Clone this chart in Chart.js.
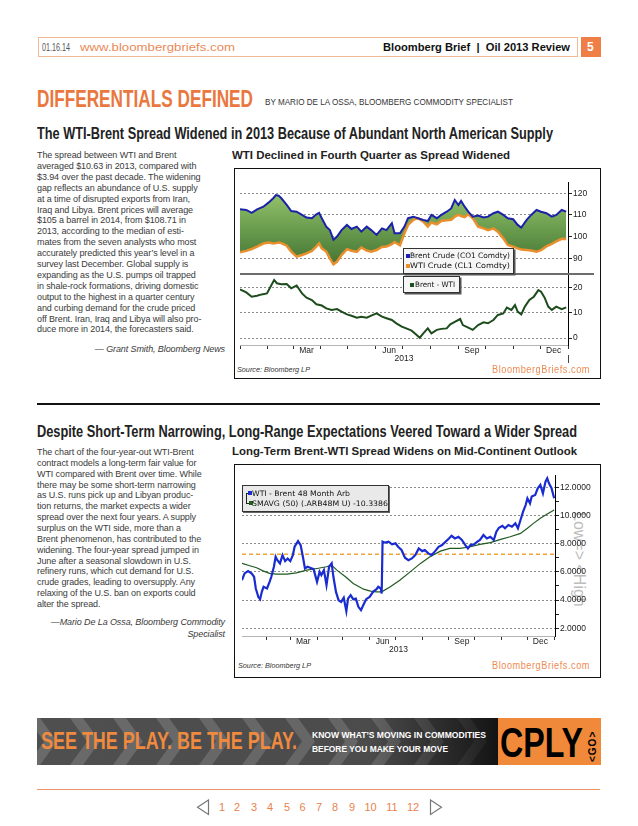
<!DOCTYPE html>
<html>
<head>
<meta charset="utf-8">
<title>Bloomberg Brief | Oil 2013 Review - page 5</title>
<script src="https://cdn.jsdelivr.net/npm/chart.js@4.4.1/dist/chart.umd.min.js"></script>
<style>
  html, body { margin: 0; padding: 0; }
  body { width: 638px; height: 826px; position: relative; overflow: hidden; background: #fff;
         font-family: "Liberation Sans", Arial, sans-serif; color: #222; }
  .abs { position: absolute; white-space: nowrap; }
  .narrow { font-family: "Liberation Sans Narrow", "Liberation Sans", sans-serif; }
  .body { font-size: 9px; line-height: 12px; letter-spacing: -0.1px; color: #3a3a3a; }
  .frame { position: absolute; border: 1.5px solid #111; box-sizing: border-box; }
  .lg { position: absolute; box-sizing: border-box; border: 1px solid #333; background: #f6f6f6;
        font-family: "DejaVu Sans", sans-serif; font-size: 7.5px; color: #111; }
  .lg .mk { position: absolute; width: 4px; height: 4px; }
  .lg .tx { position: absolute; white-space: nowrap; line-height: 9px; }
  .src { font-style: italic; font-size: 7.5px; color: #333; line-height: 10px; }
  .bb { font-size: 10px; color: #ef8a52; letter-spacing: 0.6px; line-height: 12px; }
  .pg { font-size: 11px; color: #e8834d; line-height: 14px; }
  canvas { position: absolute; }
</style>
</head>
<body>

<!-- page header -->
<div class="abs" style="left:38px;top:37px;width:540px;height:20px;border:1px solid #f1b995;box-sizing:border-box;"></div>
<div class="abs narrow" style="left:42px;top:41px;font-size:11px;line-height:12px;color:#555;" data-w="28">01.16.14</div>
<div class="abs narrow" style="left:80px;top:41px;font-size:11px;line-height:12px;color:#ea8a5a;" data-w="155">www.bloombergbriefs.com</div>
<div class="abs narrow" style="left:383px;top:41px;font-size:11.5px;line-height:12px;font-weight:bold;color:#111;" data-w="187">Bloomberg Brief&nbsp; | &nbsp;Oil 2013 Review</div>
<div class="abs" style="left:581px;top:37px;width:20px;height:20px;background:#ef7f46;"></div>
<div class="abs narrow" style="left:587px;top:40px;font-size:12px;line-height:14px;font-weight:bold;color:#fff;">5</div>

<!-- section heading -->
<div class="abs narrow" style="left:37px;top:86px;font-size:23px;line-height:26px;font-weight:bold;color:#e9773e;" data-w="216">DIFFERENTIALS DEFINED</div>
<div class="abs narrow" style="left:265px;top:97px;font-size:8.5px;line-height:10px;color:#333;" data-w="248">BY MARIO DE LA OSSA, BLOOMBERG COMMODITY SPECIALIST</div>

<div class="abs narrow" style="left:37px;top:125px;font-size:16px;line-height:18px;font-weight:bold;color:#222;" data-w="516">The WTI-Brent Spread Widened in 2013 Because of Abundant North American Supply</div>
<div class="abs" style="left:232px;top:149px;font-size:11px;line-height:13px;font-weight:bold;color:#222;" data-w="278">WTI Declined in Fourth Quarter as Spread Widened</div>

<!-- chart 1 frame -->
<div class="frame" style="left:234px;top:168px;width:367px;height:211px;"></div>
<canvas id="spreadChart" width="358" height="195" style="left:236px;top:170px;"></canvas>
<div class="lg" style="left:403px;top:248px;width:111px;height:26px;box-shadow:1.5px 1.5px 0 #555;">
  <div class="mk" style="left:2px;top:5px;background:#1b22b0;"></div>
  <div class="tx" data-w="100" style="left:6px;top:2px;">Brent Crude (CO1 Comdty)</div>
  <div class="mk" style="left:2px;top:15px;background:#e8902e;"></div>
  <div class="tx" data-w="100" style="left:6px;top:12px;">WTI Crude (CL1 Comdty)</div>
</div>
<div class="lg" style="left:403px;top:276px;width:57px;height:17px;box-shadow:1.5px 1.5px 0 #555;">
  <div class="mk" style="left:6px;top:6px;background:#1d4f1d;"></div>
  <div class="tx" data-w="40" style="left:11px;top:3px;">Brent - WTI</div>
</div>
<div class="abs src" style="left:237px;top:365px;" data-w="73">Source: Bloomberg LP</div>
<div class="abs bb" style="left:492px;top:364px;" data-w="98">BloombergBriefs.com</div>

<div class="abs body" style="right:413px;top:343px;font-style:italic;">— Grant Smith, Bloomberg News</div>

<!-- rule between sections -->
<div class="abs" style="left:37px;top:403px;width:563px;height:1.5px;background:#111;"></div>

<div class="abs narrow" style="left:37px;top:423px;font-size:16px;line-height:18px;font-weight:bold;color:#222;" data-w="540">Despite Short-Term Narrowing, Long-Range Expectations Veered Toward a Wider Spread</div>
<div class="abs" style="left:232px;top:445px;font-size:11px;line-height:13px;font-weight:bold;color:#222;" data-w="345">Long-Term Brent-WTI Spread Widens on Mid-Continent Outlook</div>

<!-- chart 2 frame -->
<div class="frame" style="left:234px;top:464px;width:367px;height:214px;"></div>
<div class="abs" style="left:571px;top:512px;transform-origin:0 0;transform:rotate(90deg) translate(0,-16px);font-size:16px;line-height:16px;color:#bdbdbd;">Low=&gt; &lt;High</div>
<canvas id="arbChart" width="360" height="190" style="left:236px;top:466px;"></canvas>
<div class="lg" style="left:242px;top:485px;width:147px;height:27px;background:#e9e9e9;box-shadow:1px 1px 0 #666;">
  <div class="abs" style="left:3px;top:7px;width:1px;height:11px;background:#222;"></div>
  <div class="abs" style="left:3px;top:7px;width:3px;height:1px;background:#222;"></div>
  <div class="abs" style="left:3px;top:17px;width:4px;height:1px;background:#222;"></div>
  <div class="mk" style="left:5px;top:5px;background:#1c2ccc;"></div>
  <div class="tx" data-w="98" style="left:9px;top:3px;">WTI - Brent 48 Month Arb</div>
  <div class="mk" style="left:6px;top:15px;background:#1f5e1f;"></div>
  <div class="tx" data-w="136" style="left:9px;top:13px;">SMAVG (50) (.ARB48M U) -10.3386</div>
</div>
<div class="abs src" style="left:238px;top:661px;" data-w="73">Source: Bloomberg LP</div>
<div class="abs bb" style="left:492px;top:660px;" data-w="98">BloombergBriefs.com</div>

<div class="abs body" style="right:413px;top:616px;font-style:italic;">—Mario De La Ossa, Bloomberg Commodity</div>
<div class="abs body" style="right:413px;top:628px;font-style:italic;">Specialist</div>

<!-- advertisement strip -->
<svg class="abs" style="left:37px;top:718px;" width="564" height="47" viewBox="0 0 564 47">
  <defs>
    <linearGradient id="fade" x1="0" x2="1" y1="0" y2="0">
      <stop offset="0" stop-color="#000" stop-opacity="0"/>
      <stop offset="0.72" stop-color="#000" stop-opacity="0.05"/>
      <stop offset="1" stop-color="#000" stop-opacity="0.75"/>
    </linearGradient>
  </defs>
  <rect x="0" y="0" width="461" height="47" fill="#4f4f4f"/>
  <g fill="#6a6a6a" id="chev"></g>
  <rect x="0" y="0" width="461" height="47" fill="url(#fade)"/>
  <rect x="461" y="0" width="103" height="47" fill="#f08a3a"/>
</svg>
<div class="abs narrow" style="left:41px;top:728px;font-size:23px;line-height:26px;font-weight:bold;color:#ef8a3e;" data-w="256">SEE THE PLAY. BE THE PLAY.</div>
<div class="abs narrow" style="left:312px;top:729px;font-size:9.5px;line-height:11px;font-weight:bold;color:#fff;" data-w="174">KNOW WHAT’S MOVING IN COMMODITIES</div>
<div class="abs narrow" style="left:312px;top:743px;font-size:9.5px;line-height:11px;font-weight:bold;color:#fff;" data-w="136">BEFORE YOU MAKE YOUR MOVE</div>
<div class="abs narrow" style="left:500px;top:720px;font-size:43px;line-height:44px;font-weight:bold;color:#000;" data-w="83">CPLY</div>
<div class="abs" style="left:587px;top:762px;transform-origin:0 0;transform:rotate(-90deg);font-size:10px;line-height:11px;font-weight:bold;color:#000;letter-spacing:1px;">&lt;GO&gt;</div>

<!-- footer -->
<div class="abs" style="left:37px;top:789px;width:563px;height:1px;background:#ec9466;"></div>
<svg class="abs" style="left:196px;top:799px;" width="14" height="17"><polygon points="12.5,1 12.5,15.5 1.5,8.25" fill="none" stroke="#777" stroke-width="1.2"/></svg>
<svg class="abs" style="left:429px;top:799px;" width="14" height="17"><polygon points="1.5,1 1.5,15.5 12.5,8.25" fill="none" stroke="#777" stroke-width="1.2"/></svg>
<div id="pager"></div>

<script>
// ---- chart 1: Brent, WTI (top panel) and Brent - WTI (bottom panel), x = day of 2013
const days1 = [0,7,13,19,26, 32,37,40,43,46, 52,57,63,69,74, 80,85,88,91,96,
  100,104,108,113,119, 124,130,135,141,146, 152,158,163,169,172, 178,183,187,193,198,
  204,209,213,219,224, 230,235,239,243,246, 250,254,259,265,271, 276,282,287,293,298,
  304,309,313,319,324, 330,335,341,347,352, 358,363];
const brent = [112.6,112.3,111.0,112.6,113.8, 115.8,117.7,119.2,118.9,117.7, 114.6,111.8,111.5,110.0,108.8,
  108.5,110.3,111.0,108.5,104.6, 103.0,98.5,100.0,103.0,105.4, 103.5,104.6,102.3,104.6,103.0,
  100.8,103.8,103.0,106.2,101.5, 101.5,104.6,108.5,109.2,108.5, 107.7,107.2,110.0,108.5,110.0,
  111.5,113.0,116.9,114.6,116.5, 113.8,111.5,109.2,109.7,108.8, 109.2,110.8,111.5,110.0,108.5,
  108.0,105.4,104.2,107.7,110.0, 112.3,111.5,110.8,109.2,110.0, 112.3,111.5];
const wti = [92.8,93.4,94.3,95.4,96.8, 97.3,96.8,97.0,97.3,97.0, 95.8,93.1,90.8,91.5,92.3,
  93.4,95.5,96.9,94.6,93.1, 90.0,87.2,88.5,91.5,94.2, 93.5,93.0,95.0,93.6,93.0,
  93.8,95.2,95.4,96.5,97.5, 96.0,101.5,105.4,107.7,108.5, 106.9,104.6,106.5,105.7,107.2,
  107.5,107.8,109.2,110.0,109.5, 109.0,110.3,108.5,104.6,103.8, 103.0,103.8,102.3,99.2,96.2,
  95.4,94.6,94.0,93.8,93.6, 93.0,93.8,95.5,96.7,97.8, 99.0,98.9];
const spreadDays = [0,7,13,19,24, 30,35,38,41,46, 52,57,63,69,74, 80,85,91,96,102,
  108,113,119,124,130, 135,141,146,152,158, 163,169,174,180,185, 191,196,200,204,209,
  213,219,224,230,234, 239,245,248,254,259, 265,271,276,282,287, 293,297,302,306,309,
  313,317,322,327,332, 335,339,343,347,352, 358,363];
const spread = [19.2,18.0,16.3,16.7,17.2, 17.6,20.9,22.9,21.6,21.2, 21.3,19.6,20.7,17.6,15.9,
  15.0,13.3,12.8,11.7,11.1, 11.4,10.4,9.3,8.8,8.0, 8.4,8.0,8.8,9.7,8.4,
  7.8,7.1,5.8,4.5,3.8, 2.9,1.4,0.1,1.8,3.8, 1.8,3.2,3.6,3.8,5.4,
  6.4,7.5,5.1,4.1,3.2, 5.1,6.2,5.8,7.1,9.1, 9.7,12.0,11.1,13.0,10.4,
  9.3,12.4,15.0,16.3,18.9, 18.3,15.9,12.4,11.1,12.4, 11.4,12.1];
const priceTicks = [90, 100, 110, 120];
const spreadTicks = [0, 10, 20];

// ---- chart 2: WTI - Brent 48 month arb and its 50-day average
const arbDays = [3,6,10,14,17,19,22,24,26,28,32,35,37,40,42,44,47,50,53,56,59,62,64,68,71,74,76,79,82,86,
  90,93,95,98,101,104,107,109,112,115,118,121,124,126,129,132,135,138,141,144,147,151,155,159,161,164,165,
  166,169,173,177,181,184,188,192,196,200,204,208,212,215,219,223,227,231,235,239,243,246,250,254,258,
  262,265,268,272,276,279,283,287,291,295,298,301,305,308,312,316,320,323,326,329,332,334,337,339,343,
  346,349,352,355,357,359,362,365];
const arb = [5.41,5.89,6.05,5.89,5.65,4.82,4.22,4.06,4.58,4.94,4.82,5.29,5.65,6.36,7.07,6.83,6.60,7.19,6.76,6.95,
  6.76,7.19,7.78,8.18,7.90,6.95,6.24,6.36,6.29,6.19, 5.29,6.00,5.77,6.12,5.06,6.36,6.60,5.65,4.58,3.99,
  3.87,4.16,3.21,4.10,4.35,4.06,4.10,3.52,3.28,3.68,4.06,4.22,4.58,4.77,4.94,4.82,4.46,
  8.14,8.07,8.14,7.95,8.02,7.78,7.55,7.00,6.83,6.95,7.19,7.66,7.47,7.55,7.31,7.19,7.47,7.78,7.90,8.14,8.37,
  8.56,8.37,8.49,8.26, 7.90,7.66,7.90,7.95,8.14,8.26,8.61,8.37,8.49,8.26,8.85,9.13,9.27,9.09,9.32,9.20,
  9.44,9.09,9.68,10.27,10.74,11.22,10.86,11.34,11.45, 11.93,12.17,11.57,12.40,12.64,12.28,11.93,11.22];
const smaDays = [3,12,20,28,35,43,55,66,78,90,101,107,113,123,132,144,152,159,165,175,186,198,210,221,233,
  244,256,268,279,291,303,314,326,334,341,349,357,365];
const sma = [6.60,6.43,6.29,6.05,5.89,5.84,5.84,5.93,6.12,6.24,6.36,6.48,6.12,5.65,5.18,4.77,4.63,4.58,4.58,
  4.94,5.41,6.00,6.60,7.07,7.47,7.66,7.66,7.78,7.95,8.07,8.30,8.49,8.73,9.09,9.44,9.80,10.10,10.39];
const fairLevel = 7.25;
const arbTicks = [2,3,4,5,6,7,8,9,10,11,12];

// ---- shared date axis (2013)
const monthStarts = [0,31,59,90,120,151,181,212,243,273,304,334,365];
const quarterLabels = { 74: 'Mar', 166: 'Jun', 258: 'Sep', 349: 'Dec' };

const tickFont = { family: '"Liberation Sans", Arial, sans-serif', size: 8.5 };
const INK = '#222';

function pts(xs, ys) { return xs.map((x, i) => ({ x: x, y: ys[i] })); }

function dateAxis(min, max) {
  return {
    type: 'linear', position: 'bottom', min: min, max: max,
    afterBuildTicks: s => {
      const vals = monthStarts.filter(v => v >= min && v <= max)
        .concat(Object.keys(quarterLabels).map(Number));
      s.ticks = vals.sort((a, b) => a - b).map(v => ({ value: v }));
    },
    afterFit: s => { s.height = 20; },
    ticks: { autoSkip: false, maxRotation: 0, padding: -3, font: tickFont, color: INK,
             callback: v => quarterLabels[v] || '' },
    grid: { drawOnChartArea: false, tickLength: 4,
            tickColor: c => (c.tick && monthStarts.includes(c.tick.value)) ? '#333' : 'rgba(0,0,0,0)' },
    border: { color: '#b5b5b5' },
    title: { display: true, text: '2013', font: tickFont, color: INK, padding: { top: 0, bottom: 1 } }
  };
}

function greenFill(context) {
  const chart = context.chart;
  const y = chart.scales && chart.scales.yTop;
  if (!y || !isFinite(y.top)) return '#6a9a4a';
  const g = chart.ctx.createLinearGradient(0, y.top, 0, y.bottom);
  g.addColorStop(0, '#a1cf73');
  g.addColorStop(0.5, '#6b9d4f');
  g.addColorStop(1, '#3b6a2b');
  return g;
}

const panelRule = {
  id: 'panelRule',
  afterDraw(chart) {
    const { ctx, scales } = chart;
    const yb = Math.round(scales.yTop.bottom);
    ctx.save();
    ctx.strokeStyle = '#6d6d6d';
    ctx.lineWidth = 2;
    ctx.beginPath();
    ctx.moveTo(chart.chartArea.left, yb);
    ctx.lineTo(chart.width, yb);
    ctx.stroke();
    // year boundary mark below the date labels
    const xe = Math.round(scales.x.getPixelForValue(365)) + 0.5;
    ctx.strokeStyle = '#444';
    ctx.lineWidth = 1;
    ctx.beginPath();
    ctx.moveTo(xe, scales.x.bottom - 10);
    ctx.lineTo(xe, scales.x.bottom - 2);
    ctx.stroke();
    ctx.restore();
  }
};

new Chart(document.getElementById('spreadChart'), {
  type: 'line',
  data: {
    datasets: [
      { label: 'Brent Crude (CO1 Comdty)', data: pts(days1, brent), yAxisID: 'yTop',
        borderColor: '#1b22a8', borderWidth: 2, pointRadius: 0, fill: '+1', backgroundColor: greenFill },
      { label: 'WTI Crude (CL1 Comdty)', data: pts(days1, wti), yAxisID: 'yTop',
        borderColor: '#e98f2e', borderWidth: 2.5, pointRadius: 0, fill: false },
      { label: 'Brent - WTI', data: pts(spreadDays, spread), yAxisID: 'yBot',
        borderColor: '#1d4d1d', borderWidth: 2, pointRadius: 0, fill: false }
    ]
  },
  options: {
    responsive: false, animation: false,
    layout: { padding: { left: 4, top: 12, right: 0, bottom: 0 } },
    plugins: { legend: { display: false }, tooltip: { enabled: false },
               filler: { drawTime: 'beforeDatasetsDraw' } },
    scales: {
      x: dateAxis(0, 365),
      yTop: {
        type: 'linear', position: 'right', stack: 'panels', stackWeight: 92, min: 82.75, max: 125.2,
        afterBuildTicks: s => { s.ticks = priceTicks.map(v => ({ value: v })); },
        afterFit: s => { s.width = 26; },
        ticks: { padding: 1, font: tickFont, color: INK },
        grid: { color: '#8c8c8c', tickLength: 4, tickColor: '#222' },
        border: { color: '#000', dash: [2, 2] }
      },
      yBot: {
        type: 'linear', position: 'right', stack: 'panels', stackWeight: 71, min: -2.76, max: 25.25,
        afterBuildTicks: s => { s.ticks = spreadTicks.map(v => ({ value: v })); },
        afterFit: s => { s.width = 26; },
        ticks: { padding: 1, font: tickFont, color: INK },
        grid: { color: '#8c8c8c', tickLength: 4, tickColor: '#222' },
        border: { color: '#000', dash: [2, 2] }
      }
    }
  },
  plugins: [panelRule]
});

new Chart(document.getElementById('arbChart'), {
  type: 'line',
  data: {
    datasets: [
      { label: 'WTI - Brent 48 Month Arb', data: pts(arbDays, arb),
        borderColor: '#1a2bd0', borderWidth: 2.2, pointRadius: 0, fill: false },
      { label: 'SMAVG (50) (.ARB48M U)', data: pts(smaDays, sma),
        borderColor: '#1f5a1f', borderWidth: 1.2, pointRadius: 0, fill: false },
      { label: 'level', data: [{ x: 3, y: fairLevel }, { x: 366, y: fairLevel }],
        borderColor: '#f0a43a', borderWidth: 1.3, borderDash: [4, 3], pointRadius: 0, fill: false }
    ]
  },
  options: {
    responsive: false, animation: false,
    layout: { padding: { left: 6, top: 9, right: 0, bottom: 0 } },
    plugins: { legend: { display: false }, tooltip: { enabled: false } },
    scales: {
      x: dateAxis(3, 366),
      y: {
        type: 'linear', position: 'right', min: 1.45, max: 12.87,
        afterBuildTicks: s => { s.ticks = arbTicks.map(v => ({ value: v })); },
        afterFit: s => { s.width = 41; },
        ticks: { padding: 1, font: tickFont, color: INK,
                 callback: v => (v % 2 === 0 ? v.toFixed(4) : '') },
        grid: { color: c => (c.tick && c.tick.value % 2 === 0) ? '#8c8c8c' : 'rgba(0,0,0,0)',
                tickLength: 4, tickColor: '#222' },
        border: { color: '#000', dash: [2, 2] }
      }
    }
  }
});

// ---- article text, one entry per printed line
const story1 = [
  'The spread between WTI and Brent',
  'averaged $10.63 in 2013, compared with',
  '$3.94 over the past decade. The widening',
  'gap reflects an abundance of U.S. supply',
  'at a time of disrupted exports from Iran,',
  'Iraq and Libya. Brent prices will average',
  '$105 a barrel in 2014, from $108.71 in',
  '2013, according to the median of esti-',
  'mates from the seven analysts who most',
  'accurately predicted this year’s level in a',
  'survey last December. Global supply is',
  'expanding as the U.S. pumps oil trapped',
  'in shale-rock formations, driving domestic',
  'output to the highest in a quarter century',
  'and curbing demand for the crude priced',
  'off Brent. Iran, Iraq and Libya will also pro-',
  'duce more in 2014, the forecasters said.'
];
const story2 = [
  'The chart of the four-year-out WTI-Brent',
  'contract models a long-term fair value for',
  'WTI compared with Brent over time. While',
  'there may be some short-term narrowing',
  'as U.S. runs pick up and Libyan produc-',
  'tion returns, the market expects a wider',
  'spread over the next four years. A supply',
  'surplus on the WTI side, more than a',
  'Brent phenomenon, has contributed to the',
  'widening. The four-year spread jumped in',
  'June after a seasonal slowdown in U.S.',
  'refinery runs, which cut demand for U.S.',
  'crude grades, leading to oversupply. Any',
  'relaxing of the U.S. ban on exports could',
  'alter the spread.'
];

function addLines(lines, x, firstY, step) {
  lines.forEach((s, i) => {
    const d = document.createElement('div');
    d.className = 'abs body';
    d.style.left = x + 'px';
    d.style.top = (firstY + i * step - 6) + 'px';
    d.textContent = s;
    document.body.appendChild(d);
  });
}
addLines(story1, 37, 155, 10.9);
addLines(story2, 37, 452, 10.86);

// pager numbers
const pageNums = [1,2,3,4,5,6,7,8,9,10,11,12];
const pageX = [222,237,254,270,287,302.5,319,335,352,370.5,392,413];
const pager = document.getElementById('pager');
pageNums.forEach((n, i) => {
  const d = document.createElement('div');
  d.className = 'abs narrow pg';
  d.textContent = n;
  pager.appendChild(d);
  d.style.left = (pageX[i] - d.getBoundingClientRect().width / 2) + 'px';
  d.style.top = '800px';
});

// chevrons in the ad strip
const chev = document.getElementById('chev');
for (let x = -10; x < 470; x += 43) {
  const p = document.createElementNS('http://www.w3.org/2000/svg', 'polygon');
  p.setAttribute('points', `${x},0 ${x + 13},0 ${x + 30},23.5 ${x + 13},47 ${x},47 ${x + 17},23.5`);
  chev.appendChild(p);
}

// squeeze printed lines to their measured widths
document.querySelectorAll('[data-w]').forEach(el => {
  const w = el.getBoundingClientRect().width;
  if (w > 0) {
    el.style.transformOrigin = 'left center';
    el.style.transform = `scaleX(${(+el.dataset.w / w).toFixed(4)})`;
  }
});
</script>
</body>
</html>
